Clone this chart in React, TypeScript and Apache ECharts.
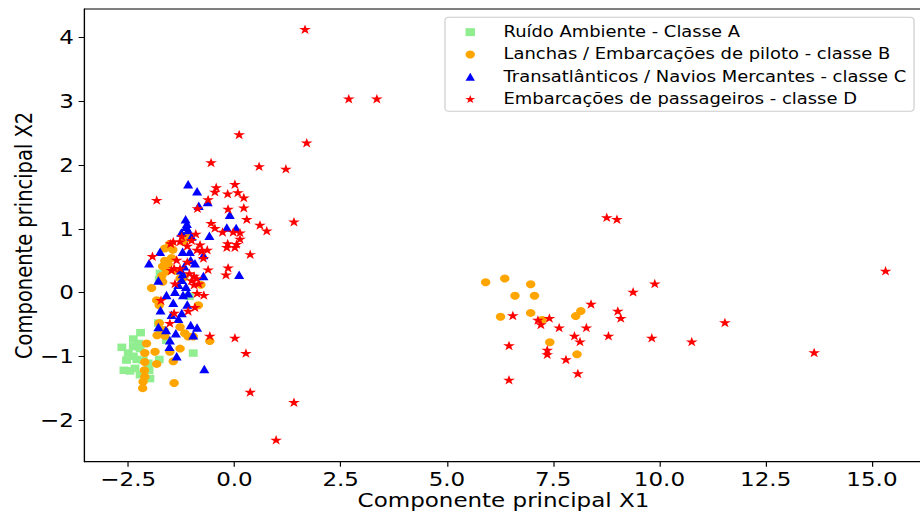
import React, { useEffect, useRef } from "react";
import * as echarts from "echarts";

// Horizontal stretch of the whole figure (the chart is laid out narrower, then widened).
const STRETCH = 1.18;
const FONT = "DejaVu Sans";

const SERIES_NAMES = [
  "Ruído Ambiente - Classe A",
  "Lanchas / Embarcações de piloto - classe B",
  "Transatlânticos / Navios Mercantes - classe C",
  "Embarcações de passageiros - classe D",
];

const X_TICKS = [-2.5, 0, 2.5, 5, 7.5, 10, 12.5, 15];
const Y_TICKS = [-2, -1, 0, 1, 2, 3, 4];

// Classe A – ruído ambiente
const classA: [number, number][] = [
  [-1.75, 0.3], [-1.77, 0.2], [-1.06, -0.06], [-2.21, -0.63], [-2.38, -0.73],
  [-2.26, -0.8], [-2.38, -0.85], [-2.22, -0.88], [-2.65, -0.86], [-2.5, -0.95],
  [-2.38, -1.0], [-2.54, -1.06], [-2.3, -1.05], [-1.79, -0.48], [-1.75, -0.63],
  [-1.6, -0.75], [-2.6, -1.22], [-2.46, -1.23], [-2.34, -1.19], [-2.22, -1.29],
  [-2.01, -1.22], [-1.99, -1.35], [-1.77, -1.05], [-0.97, -0.95], [-2.15, -1.06],
  [-2.03, -1.11],
];

// Classe B – lanchas / embarcações de piloto
const classB: [number, number][] = [
  [-1.52, 0.76], [-1.64, 0.69], [-1.45, 0.67], [-1.21, 0.8], [-1.13, 0.9],
  [-1.05, 0.85], [-1.48, 0.54], [-1.64, 0.5], [-1.56, 0.44], [-1.69, 0.41],
  [-1.6, 0.33], [-1.71, 0.26], [-1.69, 0.17], [-1.95, 0.07], [-1.28, 0.22],
  [-1.19, 0.24], [-1.38, 0.34], [-0.79, 0.12], [-1.83, -0.12], [-1.77, -0.2],
  [-0.85, -0.2], [-1.77, -0.48], [-1.66, -0.59], [-1.82, -0.67], [-1.64, -0.68],
  [-1.28, -0.54], [-1.17, -0.64], [-1.09, -0.69], [-0.97, -0.69], [-2.07, -0.8],
  [-2.11, -0.95], [-1.87, -0.93], [-1.28, -0.88], [-1.52, -0.93], [-2.11, -1.09],
  [-1.83, -1.12], [-1.44, -1.08], [-2.12, -1.22], [-2.11, -1.32], [-2.15, -1.4],
  [-2.16, -1.5], [-1.42, -1.42], [-0.58, -0.76],
  [5.91, 0.16], [6.36, 0.22], [6.97, 0.13], [6.6, -0.05], [7.06, -0.05],
  [6.26, -0.38], [6.97, -0.32], [7.24, -0.43], [8.15, -0.29], [8.03, -0.37],
  [7.42, -0.78], [8.06, -0.97],
];

// Classe C – transatlânticos / navios mercantes
const classC: [number, number][] = [
  [-1.09, 1.7], [-0.88, 1.59], [-0.63, 1.42], [-0.84, 1.36], [-1.15, 1.15],
  [-1.12, 1.08], [-1.14, 1.03], [-1.09, 0.98], [-0.11, 1.22], [-0.18, 1.02],
  [0.04, 1.01], [-0.59, 0.89], [-1.25, 0.94], [-1.01, 0.88], [-1.75, 0.64],
  [-2.01, 0.46], [-1.22, 0.64], [-1.05, 0.64], [-0.73, 0.59], [-1.03, 0.51],
  [-0.93, 0.46], [-1.18, 0.41], [-1.79, 0.19], [0.11, 0.28], [-0.73, 0.26],
  [-1.26, 0.35], [-1.22, 0.29], [-1.24, 0.2], [-1.32, 0.12], [-1.14, 0.09],
  [-1.6, -0.04], [-1.4, 0.01], [-1.21, -0.04], [-1.09, -0.01], [-1.44, -0.16],
  [-1.11, -0.19], [-1.74, -0.28], [-1.48, -0.35], [-1.32, -0.41], [-1.24, -0.32],
  [-1.79, -0.54], [-1.61, -0.59], [-1.38, -0.64], [-1.03, -0.51], [-0.88, -0.55],
  [-0.97, -0.67], [-1.52, -0.75], [-1.53, -0.85], [-1.36, -1.0], [-0.71, -1.2],
];

// Classe D – embarcações de passageiros
const classD: [number, number][] = [
  [-1.83, 1.45], [-0.43, 1.65], [-0.46, 1.58], [0.01, 1.7], [-0.16, 1.55],
  [0.08, 1.57], [0.22, 1.49], [-0.87, 1.32], [-0.15, 1.31], [0.22, 1.33],
  [0.29, 1.15], [0.6, 1.06], [0.76, 0.97], [-0.55, 1.09], [-0.46, 1.01],
  [-0.28, 0.95], [-0.03, 0.95], [0.13, 0.94], [0.13, 0.84], [-0.16, 0.77],
  [0.05, 0.76], [-0.18, 0.71], [0.01, 0.71], [0.37, 0.6], [-0.91, 0.92],
  [-1.01, 0.82], [-1.24, 0.88], [-1.28, 0.8], [-1.44, 0.8], [-1.5, 0.77],
  [-1.11, 0.73], [-0.81, 0.75], [-0.64, 0.67], [-0.77, 0.65], [-0.88, 0.67],
  [-0.73, 0.54], [-1.93, 0.57], [-1.36, 0.51], [-1.11, 0.48], [-1.28, 0.38],
  [-1.42, 0.38], [-1.48, 0.35], [-0.62, 0.36], [-0.15, 0.39], [-0.2, 0.28],
  [-1.06, 0.3], [-0.95, 0.26], [-0.89, 0.22], [-1.01, 0.19], [-0.84, 0.14],
  [-0.95, 0.12], [-1.4, 0.14], [-1.73, -0.12], [-0.88, -0.01], [-0.72, -0.04],
  [-1.42, -0.32], [-1.09, -0.29], [-0.93, -0.23], [-1.52, -0.48], [-0.58, -0.68],
  [0.01, -0.71], [0.27, -0.95], [0.37, -1.56],
  [-0.62, 1.46], [0.11, 2.48], [-0.55, 2.04], [0.58, 1.98], [1.21, 1.94],
  [1.7, 2.35], [1.66, 4.13], [2.69, 3.04], [3.35, 3.04], [1.4, 1.11],
  [0.98, -2.31], [1.4, -1.72],
  [6.55, -0.36], [7.14, -0.43], [7.21, -0.5], [7.41, -0.4], [7.64, -0.55],
  [8.39, -0.18], [9.02, -0.29], [9.09, -0.4], [9.38, 0.01], [9.89, 0.14],
  [8.28, -0.55], [8.0, -0.68], [8.13, -0.77], [8.8, -0.68], [9.82, -0.71],
  [10.76, -0.77], [6.46, -0.83], [7.36, -0.9], [7.36, -0.97], [7.8, -1.05],
  [8.08, -1.27], [6.46, -1.37], [8.76, 1.18], [9.0, 1.15], [11.54, -0.47],
  [13.64, -0.94], [15.32, 0.34],
];

// Marker outlines (square, circle, upward triangle, five-pointed star)
const SQUARE = "path://M-1,-1L1,-1L1,1L-1,1Z";
const TRIANGLE = "path://M0,-1L1,1L-1,1Z";
const STAR =
  "path://M0,-1L-0.2245,-0.309L-0.951,-0.309L-0.363,0.118L-0.588,0.809L0,0.382L0.588,0.809L0.363,0.118L0.951,-0.309L0.2245,-0.309Z";

const minusSign = (s: string) => s.replace("-", "\u2212");

function buildOption(): echarts.EChartsOption {
  const markers = [
    { data: classA, symbol: SQUARE, size: 7.5, color: "#90ee90" },
    { data: classB, symbol: "circle", size: 8, color: "#ffa500" },
    { data: classC, symbol: TRIANGLE, size: 8.5, color: "#0000ff" },
    { data: classD, symbol: STAR, size: 10, color: "#ff0000" },
  ];

  return {
    animation: false,
    backgroundColor: "#ffffff",
    grid: {
      left: 71.6,
      top: 9,
      width: 710.2,
      height: 452.7,
      show: true,
      borderColor: "#000",
      borderWidth: 1,
      backgroundColor: "transparent",
      containLabel: false,
      outerBoundsMode: "none",
    },
    xAxis: {
      type: "value",
      min: -3.529,
      max: 16.19,
      name: "Componente principal X1",
      nameLocation: "middle",
      nameGap: 29,
      nameMoveOverlap: false,
      nameTextStyle: { fontFamily: FONT, fontSize: 19.5, lineHeight: 19.5, color: "#000" },
      axisLine: { show: true, onZero: false, lineStyle: { color: "#000", width: 1 } },
      axisTick: {
        show: true,
        inside: false,
        length: 5,
        customValues: X_TICKS,
        lineStyle: { color: "#000", width: 1 },
      },
      axisLabel: {
        customValues: X_TICKS,
        margin: 8,
        fontFamily: FONT,
        fontSize: 19.5,
        lineHeight: 19.5,
        color: "#000",
        formatter: (v: number) => minusSign(v.toFixed(1)),
      },
      splitLine: { show: false },
    },
    yAxis: {
      type: "value",
      min: -2.654,
      max: 4.447,
      name: "Componente principal X2",
      nameLocation: "middle",
      nameGap: 41,
      nameMoveOverlap: false,
      nameTextStyle: { fontFamily: FONT, fontSize: 19.5, color: "#000" },
      axisLine: { show: true, onZero: false, lineStyle: { color: "#000", width: 1 } },
      axisTick: {
        show: true,
        inside: false,
        length: 5,
        customValues: Y_TICKS,
        lineStyle: { color: "#000", width: 1 },
      },
      axisLabel: {
        customValues: Y_TICKS,
        margin: 9,
        fontFamily: FONT,
        fontSize: 19.5,
        color: "#000",
        formatter: (v: number) => minusSign(String(v)),
      },
      splitLine: { show: false },
    },
    legend: {
      orient: "vertical",
      left: 394.3,
      top: 21,
      padding: 0,
      itemWidth: 46.4,
      itemHeight: 8,
      itemGap: 0,
      selectedMode: false,
      symbolKeepAspect: true,
      z: 5,
      textStyle: { fontFamily: FONT, fontSize: 15.2, color: "#000", lineHeight: 22.3 },
      data: SERIES_NAMES.map((name, i) => ({ name, icon: markers[i].symbol })),
    },
    graphic: [
      {
        type: "rect",
        z: 3,
        shape: { x: 377.1, y: 17.3, width: 397.5, height: 94, r: 3 },
        style: { fill: "rgba(255,255,255,0.8)", stroke: "#cccccc", lineWidth: 1 },
      },
    ],
    series: markers.map((m, i) => ({
      type: "scatter",
      name: SERIES_NAMES[i],
      data: m.data,
      symbol: m.symbol,
      symbolSize: m.size,
      symbolKeepAspect: true,
      itemStyle: { color: m.color, opacity: 1 },
      emphasis: { disabled: true },
      z: 2,
    })),
  } as echarts.EChartsOption;
}

export default function App() {
  const ref = useRef<HTMLDivElement>(null);

  useEffect(() => {
    if (!ref.current) return;
    const chart = echarts.init(ref.current, null, { renderer: "svg" });
    chart.setOption(buildOption());
    return () => chart.dispose();
  }, []);

  return (
    <div
      style={{
        position: "absolute",
        left: 0,
        top: 0,
        width: 920,
        height: 513,
        overflow: "hidden",
        background: "#fff",
      }}
    >
      <div
        ref={ref}
        style={{
          width: 800,
          height: 513,
          transform: `scaleX(${STRETCH})`,
          transformOrigin: "0 0",
        }}
      />
    </div>
  );
}
